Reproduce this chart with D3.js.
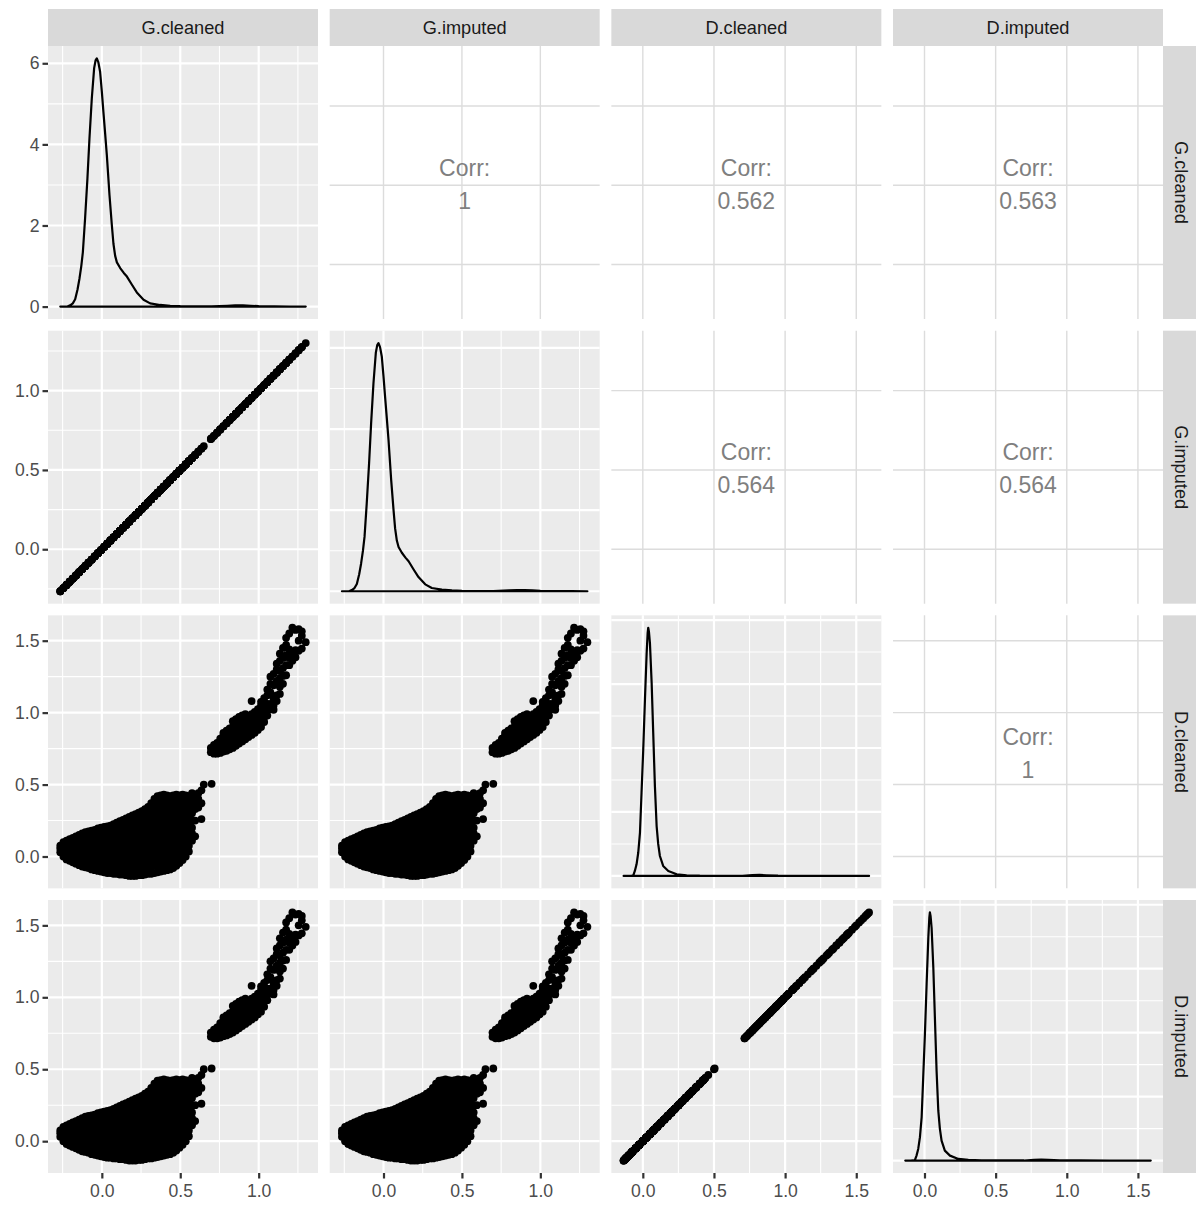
<!DOCTYPE html>
<html>
<head>
<meta charset="utf-8">
<script src="https://cdnjs.cloudflare.com/ajax/libs/d3/7.8.5/d3.min.js"></script>
<style>
  body { margin: 0; background: #fff; }
  svg text { font-family: "Liberation Sans", Arial, sans-serif; }
</style>
</head>
<body>
<svg id="chart" width="1196" height="1205"></svg>
<script>
// variable names, in matrix order
const varNames = ["G.cleaned", "G.imputed", "D.cleaned", "D.imputed"];
// the imputed columns carry the same values as the cleaned ones
const varKind = ["G", "G", "D", "D"];

// upper triangle correlation labels
const corrRow = [0, 0, 0, 1, 1, 2];
const corrCol = [1, 2, 3, 2, 3, 3];
const corrText = ["1", "0.562", "0.563", "0.564", "0.564", "1"];

// density curves
const gDensX = [-0.265, -0.22, -0.202, -0.185, -0.17, -0.155, -0.143, -0.131, -0.121, -0.107,
  -0.092, -0.079, -0.064, -0.049, -0.04, -0.032, -0.022, -0.011, 0.0, 0.01, 0.021, 0.032,
  0.049, 0.064, 0.074, 0.085, 0.096, 0.117, 0.14, 0.16, 0.19, 0.223, 0.266, 0.308, 0.372,
  0.436, 0.5, 0.6, 0.7, 0.8, 0.85, 0.9, 0.95, 1.0, 1.1, 1.2, 1.3];
const gDensY = [0, 0.0, 0.03, 0.08, 0.18, 0.42, 0.68, 1.0, 1.34, 2.16,
  3.15, 4.14, 5.13, 5.88, 6.07, 6.12, 6.02, 5.79, 5.3, 4.8, 4.27, 3.73,
  2.74, 2.0, 1.55, 1.25, 1.09, 0.95, 0.83, 0.74, 0.55, 0.35, 0.17, 0.08, 0.04,
  0.02, 0.01, 0.005, 0.005, 0.02, 0.03, 0.03, 0.02, 0.01, 0.003, 0.002, 0];

const dDensX = [-0.135, -0.1, -0.08, -0.067, -0.056, -0.044, -0.032, -0.02, -0.009, 0.003,
  0.015, 0.027, 0.034, 0.038, 0.043, 0.05, 0.062, 0.073, 0.085, 0.097, 0.108, 0.12, 0.143,
  0.179, 0.238, 0.308, 0.4, 0.55, 0.7, 0.77, 0.82, 0.87, 0.95, 1.1, 1.3, 1.5, 1.59];
const dDensY = [0, 0.0, 0.01, 0.05, 0.39, 0.91, 1.83, 3.39, 6.5, 9.9,
  13.8, 17.45, 19.0, 19.4, 19.1, 18.2, 15.1, 11.2, 7.0, 3.9, 2.5, 1.56, 0.78,
  0.39, 0.13, 0.05, 0.02, 0.01, 0.01, 0.06, 0.08, 0.05, 0.02, 0.01, 0.005, 0.003, 0];

// scatter cloud, lower group: [G, [D values in that column]]
const lowerCols = [
  [-0.265, [0.03, 0.055, 0.075]],
  [-0.245, [0.0, 0.025, 0.05, 0.075, 0.10]],
  [-0.225, [-0.02, 0.005, 0.035, 0.065, 0.09, 0.11]],
  [-0.205, [-0.03, 0.0, 0.025, 0.055, 0.085, 0.12]],
  [-0.185, [-0.04, -0.01, 0.02, 0.05, 0.08, 0.105, 0.13]],
  [-0.165, [-0.05, -0.025, 0.025, 0.075, 0.11, 0.14]],
  [-0.145, [-0.06, -0.02, 0.0, 0.05, 0.1, 0.15]],
  [-0.125, [-0.07, -0.025, 0.025, 0.075, 0.125, 0.16]],
  [-0.105, [-0.075, -0.05, 0.0, 0.05, 0.1, 0.15, 0.17]],
  [-0.085, [-0.08, -0.025, 0.025, 0.075, 0.125, 0.175]],
  [-0.065, [-0.09, -0.05, 0.0, 0.05, 0.1, 0.15, 0.18]],
  [-0.045, [-0.095, -0.075, -0.025, 0.025, 0.075, 0.125, 0.185]],
  [-0.025, [-0.1, -0.05, 0.0, 0.05, 0.1, 0.15, 0.195]],
  [-0.005, [-0.105, -0.075, -0.025, 0.025, 0.075, 0.125, 0.175, 0.2]],
  [0.015, [-0.11, -0.085, -0.05, 0.0, 0.05, 0.1, 0.15, 0.205]],
  [0.035, [-0.115, -0.075, -0.025, 0.025, 0.075, 0.125, 0.175, 0.21]],
  [0.055, [-0.115, -0.09, -0.05, 0.0, 0.05, 0.1, 0.15, 0.19, 0.215]],
  [0.075, [-0.12, -0.075, -0.025, 0.025, 0.075, 0.125, 0.175, 0.225]],
  [0.095, [-0.12, -0.1, -0.05, 0.0, 0.05, 0.1, 0.15, 0.2, 0.235]],
  [0.115, [-0.125, -0.075, -0.025, 0.025, 0.075, 0.125, 0.175, 0.225, 0.245]],
  [0.135, [-0.125, -0.1, -0.05, 0.0, 0.05, 0.1, 0.15, 0.2, 0.255]],
  [0.155, [-0.13, -0.075, -0.025, 0.025, 0.075, 0.125, 0.175, 0.225, 0.265]],
  [0.175, [-0.135, -0.1, -0.05, 0.0, 0.05, 0.1, 0.15, 0.2, 0.25, 0.275]],
  [0.195, [-0.135, -0.075, -0.025, 0.025, 0.075, 0.125, 0.175, 0.225, 0.285]],
  [0.215, [-0.135, -0.1, -0.05, 0.0, 0.05, 0.1, 0.15, 0.2, 0.25, 0.295]],
  [0.235, [-0.13, -0.075, -0.025, 0.025, 0.075, 0.125, 0.175, 0.225, 0.275, 0.305]],
  [0.255, [-0.13, -0.1, -0.05, 0.0, 0.05, 0.1, 0.15, 0.2, 0.25, 0.315]],
  [0.275, [-0.125, -0.075, -0.025, 0.025, 0.075, 0.125, 0.175, 0.225, 0.275, 0.33]],
  [0.295, [-0.12, -0.1, -0.05, 0.0, 0.05, 0.1, 0.15, 0.2, 0.25, 0.3, 0.345]],
  [0.315, [-0.12, -0.075, -0.025, 0.025, 0.075, 0.125, 0.175, 0.225, 0.275, 0.325, 0.37]],
  [0.335, [-0.115, -0.05, 0.0, 0.05, 0.1, 0.15, 0.2, 0.25, 0.3, 0.35, 0.4]],
  [0.355, [-0.11, -0.075, -0.025, 0.025, 0.075, 0.125, 0.175, 0.225, 0.275, 0.325, 0.375, 0.42]],
  [0.375, [-0.105, -0.05, 0.0, 0.05, 0.1, 0.15, 0.2, 0.25, 0.3, 0.35, 0.4, 0.425]],
  [0.395, [-0.1, -0.075, -0.025, 0.025, 0.075, 0.125, 0.175, 0.225, 0.275, 0.325, 0.375, 0.43]],
  [0.415, [-0.095, -0.05, 0.0, 0.05, 0.1, 0.15, 0.2, 0.25, 0.3, 0.35, 0.4, 0.425]],
  [0.435, [-0.09, -0.025, 0.025, 0.075, 0.125, 0.175, 0.225, 0.275, 0.325, 0.375, 0.42]],
  [0.455, [-0.08, -0.05, 0.0, 0.05, 0.1, 0.15, 0.2, 0.25, 0.3, 0.35, 0.4, 0.425]],
  [0.475, [-0.065, -0.025, 0.025, 0.075, 0.125, 0.175, 0.225, 0.275, 0.325, 0.375, 0.43]],
  [0.495, [-0.045, 0.0, 0.05, 0.1, 0.15, 0.2, 0.25, 0.3, 0.35, 0.4, 0.425]],
  [0.515, [-0.025, 0.025, 0.075, 0.125, 0.175, 0.225, 0.275, 0.325, 0.375, 0.43]],
  [0.535, [0.0, 0.05, 0.1, 0.15, 0.2, 0.25, 0.3, 0.35, 0.4, 0.425]],
  [0.555, [0.035, 0.075, 0.125, 0.175, 0.225, 0.275, 0.325, 0.375, 0.42]],
  [0.575, [0.11, 0.16, 0.2, 0.25, 0.3, 0.35, 0.4, 0.44]],
  [0.595, [0.14, 0.25, 0.33, 0.38, 0.42]],
  [0.615, [0.34, 0.4, 0.44]],
  [0.635, [0.26, 0.37, 0.46]]
];
// the few points bridging the two groups: [G, D]
const tailPts = [[0.65, 0.5], [0.70, 0.505]];
// scatter cloud, upper group
const upperCols = [
  [0.695, [0.725, 0.755]],
  [0.715, [0.715, 0.75, 0.775]],
  [0.735, [0.715, 0.755, 0.79]],
  [0.755, [0.72, 0.76, 0.8, 0.82]],
  [0.775, [0.73, 0.765, 0.80, 0.84, 0.86]],
  [0.795, [0.735, 0.77, 0.805, 0.84, 0.875]],
  [0.815, [0.745, 0.78, 0.815, 0.85, 0.89]],
  [0.835, [0.755, 0.79, 0.83, 0.865, 0.9, 0.94]],
  [0.855, [0.77, 0.805, 0.845, 0.88, 0.915, 0.955]],
  [0.875, [0.785, 0.82, 0.86, 0.895, 0.93, 0.97]],
  [0.895, [0.8, 0.835, 0.875, 0.91, 0.945, 0.98]],
  [0.915, [0.815, 0.85, 0.89, 0.925, 0.96, 0.99]],
  [0.935, [0.83, 0.865, 0.905, 0.94, 0.975]],
  [0.955, [0.845, 0.88, 0.92, 0.955, 0.99, 1.08]],
  [0.975, [0.86, 0.895, 0.935, 0.97, 1.005]],
  [0.995, [0.88, 0.915, 0.955, 0.99, 1.025]],
  [1.015, [0.9, 0.935, 0.975, 1.01, 1.05, 1.075]],
  [1.035, [0.935, 0.97, 1.01, 1.05, 1.1]],
  [1.055, [0.98, 1.02, 1.06, 1.12, 1.16]],
  [1.075, [1.025, 1.06, 1.14, 1.2, 1.25]],
  [1.095, [1.02, 1.05, 1.1, 1.19, 1.27]],
  [1.115, [1.08, 1.12, 1.22, 1.3, 1.34]],
  [1.135, [1.13, 1.18, 1.24, 1.29, 1.36, 1.41]],
  [1.155, [1.2, 1.255, 1.31, 1.38, 1.45]],
  [1.175, [1.26, 1.33, 1.4, 1.47, 1.52]],
  [1.195, [1.33, 1.38, 1.44, 1.55]],
  [1.215, [1.36, 1.415, 1.59]],
  [1.235, [1.385, 1.435, 1.575]],
  [1.255, [1.43, 1.5, 1.58]],
  [1.275, [1.445, 1.535, 1.565]],
  [1.3, [1.49]]
];

// breaks
const gMajor = [0, 0.5, 1.0], gMinor = [-0.25, 0.25, 0.75, 1.25];
const dMajor = [0, 0.5, 1.0, 1.5], dMinor = [-0.25, 0.25, 0.75, 1.25];
const gDensMajor = [0, 2, 4, 6], gDensMinor = [1, 3, 5];
const dDensMajor = [0, 5, 10, 15, 20], dDensMinor = [2.5, 7.5, 12.5, 17.5];

// layout
const leftX = 48, topY = 46, pw = 270, ph = 273, gap = 11.67;
const stripTop = 9, stripH = 37;
const fontSize = 17.6, stripFont = 18.2, corrFont = 23;
const panelBg = "#EBEBEB";

const svg = d3.select("#chart");

// flatten the cloud into points
const pts = [];
lowerCols.concat(upperCols).forEach(([g, ds]) => ds.forEach(d => pts.push({g: g, d: d})));
tailPts.forEach(([g, d]) => pts.push({g: g, d: d}));

// ggplot style 5% expansion
function expand(ext) {
    const p = (ext[1] - ext[0]) * 0.05;
    return [ext[0] - p, ext[1] + p];
}

const kinds = {
    G: {dom: expand(d3.extent(pts, p => p.g)), val: p => p.g, major: gMajor, minor: gMinor,
        densX: gDensX, densY: gDensY, densDom: expand([0, d3.max(gDensY)]),
        densMajor: gDensMajor, densMinor: gDensMinor},
    D: {dom: expand(d3.extent(pts, p => p.d)), val: p => p.d, major: dMajor, minor: dMinor,
        densX: dDensX, densY: dDensY, densDom: expand([0, d3.max(dDensY)]),
        densMajor: dDensMajor, densMinor: dDensMinor}
};

const colX = c => leftX + c * (pw + gap);
const rowY = r => topY + r * (ph + gap);
const inside = (s, v) => v >= s.domain()[0] && v <= s.domain()[1];

// draw vertical and horizontal grid lines
function grid(g, x, y, xs, ys, color, width) {
    g.selectAll(null).data(xs.filter(v => inside(x, v))).enter().append("line")
        .attr("x1", d => x(d)).attr("x2", d => x(d))
        .attr("y1", y.range()[0]).attr("y2", y.range()[1])
        .attr("stroke", color).attr("stroke-width", width);
    g.selectAll(null).data(ys.filter(v => inside(y, v))).enter().append("line")
        .attr("y1", d => y(d)).attr("y2", d => y(d))
        .attr("x1", x.range()[0]).attr("x2", x.range()[1])
        .attr("stroke", color).attr("stroke-width", width);
}

const rowScales = [];
const colScales = [];

for (let r = 0; r < 4; r++) {
    for (let c = 0; c < 4; c++) {
        const kr = kinds[varKind[r]], kc = kinds[varKind[c]];
        const x0 = colX(c), y0 = rowY(r);
        const x = d3.scaleLinear().domain(kc.dom).range([x0, x0 + pw]);
        const y = d3.scaleLinear()
            .domain(r === c ? kc.densDom : kr.dom)
            .range([y0 + ph, y0]);
        if (c === 0) rowScales[r] = y;
        if (r === 3) colScales[c] = x;

        const g = svg.append("g");

        if (r < c) {
            // correlation panel
            grid(g, x, y, kc.major, kr.major, "#DCDCDC", 1.4);
            const i = corrRow.findIndex((rr, k) => rr === r && corrCol[k] === c);
            const cx = x0 + pw / 2, cy = y0 + ph / 2;
            g.append("text").attr("x", cx).attr("y", cy - 7)
                .attr("text-anchor", "middle").attr("font-size", corrFont)
                .attr("fill", "#7F7F7F").text("Corr:");
            g.append("text").attr("x", cx).attr("y", cy + 26)
                .attr("text-anchor", "middle").attr("font-size", corrFont)
                .attr("fill", "#7F7F7F").text(corrText[i]);
            continue;
        }

        g.append("rect").attr("x", x0).attr("y", y0)
            .attr("width", pw).attr("height", ph).attr("fill", panelBg);

        if (r === c) {
            grid(g, x, y, kc.minor, kc.densMinor, "#fff", 1.1);
            grid(g, x, y, kc.major, kc.densMajor, "#fff", 2.2);
            const line = d3.line()
                .x((d, i) => x(kc.densX[i]))
                .y(d => y(d));
            g.append("path")
                .attr("d", line(kc.densY) + "Z")
                .attr("fill", "none").attr("stroke", "#000")
                .attr("stroke-width", 2.2).attr("stroke-linejoin", "round");
        } else {
            grid(g, x, y, kc.minor, kr.minor, "#fff", 1.1);
            grid(g, x, y, kc.major, kr.major, "#fff", 2.2);
            g.selectAll("circle").data(pts).enter().append("circle")
                .attr("cx", p => x(kc.val(p)))
                .attr("cy", p => y(kr.val(p)))
                .attr("r", 3.9).attr("fill", "#000");
        }
    }
}

// top strips
varNames.forEach((name, c) => {
    svg.append("rect").attr("x", colX(c)).attr("y", stripTop)
        .attr("width", pw).attr("height", stripH).attr("fill", "#D9D9D9");
    svg.append("text").attr("x", colX(c) + pw / 2).attr("y", stripTop + stripH / 2 + 6.5)
        .attr("text-anchor", "middle").attr("font-size", stripFont)
        .attr("fill", "#1A1A1A").text(name);
});

// right strips
const stripX = colX(3) + pw;
varNames.forEach((name, r) => {
    svg.append("rect").attr("x", stripX).attr("y", rowY(r))
        .attr("width", stripH).attr("height", ph).attr("fill", "#D9D9D9");
    svg.append("g")
        .attr("transform", `translate(${stripX + stripH / 2},${rowY(r) + ph / 2}) rotate(90)`)
        .append("text").attr("x", 0).attr("y", 6.5)
        .attr("text-anchor", "middle").attr("font-size", stripFont)
        .attr("fill", "#1A1A1A").text(name);
});

function styleAxis(a) {
    a.select(".domain").remove();
    a.selectAll(".tick line").attr("stroke", "#333333").attr("stroke-width", 2.2);
    a.selectAll(".tick text").attr("fill", "#4D4D4D").attr("font-size", fontSize)
        .attr("font-family", "'Liberation Sans', Arial, sans-serif");
}

// left axes
rowScales.forEach((y, r) => {
    const k = kinds[varKind[r]];
    const ax = r === 0
        ? d3.axisLeft(y).tickValues(k.densMajor.filter(v => inside(y, v))).tickFormat(d3.format("d"))
        : d3.axisLeft(y).tickValues(k.major).tickFormat(d3.format(".1f"));
    svg.append("g").attr("transform", `translate(${leftX},0)`)
        .call(ax.tickSize(5.5).tickPadding(3).tickSizeOuter(0))
        .call(styleAxis);
});

// bottom axes
const bottomY = rowY(3) + ph;
colScales.forEach((x, c) => {
    const k = kinds[varKind[c]];
    svg.append("g").attr("transform", `translate(0,${bottomY})`)
        .call(d3.axisBottom(x).tickValues(k.major).tickFormat(d3.format(".1f"))
            .tickSize(5.5).tickPadding(6).tickSizeOuter(0))
        .call(styleAxis);
});
</script>
</body>
</html>
